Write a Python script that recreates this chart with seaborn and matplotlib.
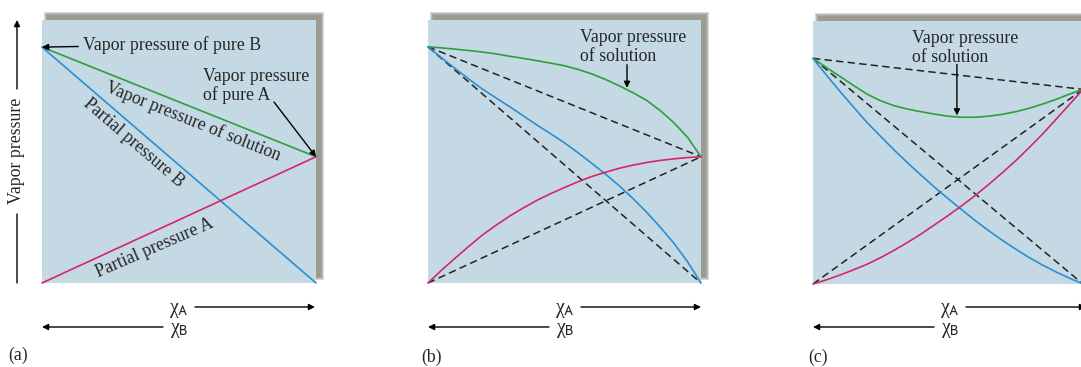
import matplotlib
matplotlib.use("Agg")
import matplotlib.pyplot as plt
import seaborn as sns
from matplotlib.patches import Rectangle

# ---------------- data ----------------
# (a) ideal solution: straight lines
a_x = [0.0, 1.0]
a_pB = [0.897, 0.0]
a_pA = [0.0, 0.48]
a_total = [0.897, 0.48]

# (b) positive deviation
b_x = [0.0, 0.05, 0.1, 0.15, 0.2, 0.25, 0.3, 0.35, 0.4, 0.45, 0.5,
       0.55, 0.6, 0.65, 0.7, 0.75, 0.8, 0.85, 0.9, 0.95, 1.0]
b_pB = [0.898, 0.856, 0.815, 0.775, 0.737, 0.703, 0.67, 0.635, 0.60, 0.567, 0.533,
        0.495, 0.455, 0.414, 0.37, 0.322, 0.27, 0.213, 0.152, 0.082, 0.0]
b_pA = [0.0, 0.049, 0.095, 0.14, 0.183, 0.22, 0.255, 0.286, 0.315, 0.34, 0.363,
        0.385, 0.405, 0.421, 0.436, 0.448, 0.458, 0.466, 0.472, 0.477, 0.48]
b_total = [0.898, 0.894, 0.889, 0.884, 0.878, 0.871, 0.862, 0.854, 0.845, 0.836, 0.826,
           0.812, 0.795, 0.774, 0.75, 0.724, 0.695, 0.656, 0.61, 0.555, 0.48]
b_ideal_x = [0.0, 1.0]
b_ideal_pB = [0.898, 0.0]
b_ideal_pA = [0.0, 0.48]
b_ideal_total = [0.898, 0.48]

# (c) negative deviation
c_x = [0.0, 0.05, 0.1, 0.15, 0.2, 0.25, 0.3, 0.35, 0.4, 0.45, 0.5,
       0.55, 0.6, 0.65, 0.7, 0.75, 0.8, 0.85, 0.9, 0.95, 1.0]
c_pB = [0.858, 0.794, 0.732, 0.673, 0.614, 0.562, 0.51, 0.461, 0.414, 0.368, 0.325,
        0.283, 0.242, 0.203, 0.167, 0.133, 0.101, 0.072, 0.046, 0.022, 0.0]
c_pA = [0.0, 0.016, 0.034, 0.054, 0.075, 0.10, 0.128, 0.158, 0.19, 0.225, 0.26,
        0.297, 0.336, 0.378, 0.422, 0.468, 0.518, 0.57, 0.626, 0.683, 0.74]
c_total = [0.858, 0.823, 0.789, 0.755, 0.722, 0.697, 0.678, 0.665, 0.655, 0.646, 0.638,
           0.634, 0.634, 0.638, 0.645, 0.655, 0.668, 0.684, 0.702, 0.722, 0.74]
c_ideal_x = [0.0, 1.0]
c_ideal_pB = [0.858, 0.0]
c_ideal_pA = [0.0, 0.74]
c_ideal_total = [0.858, 0.74]

panel_labels = ["(a)", "(b)", "(c)"]
x_labels = ["χ$_{\\mathrm{A}}$", "χ$_{\\mathrm{B}}$"]

# ---------------- style ----------------
W, H = 1081, 367
sns.set_theme(style="white")
plt.rcParams["font.family"] = ["Liberation Serif", "DejaVu Serif"]
plt.rcParams["mathtext.fontset"] = "stixsans"

BG = "#c5d9e4"
GREEN = "#2f9e3a"
BLUE = "#2a8fd2"
PINK = "#d3266f"
SHADOW = "#77776a"
FS = 12.8
LW = 1.2
DASH = (0, (4.8, 2.8))

fig = plt.figure(figsize=(W / 100, H / 100), dpi=100)
fig.patch.set_facecolor("white")


def fxy(px, py):
    return (px / W, 1 - py / H)


# panel boxes in pixels: left, top, right, bottom
boxes = [(42, 20, 316, 283), (428, 20, 701, 283), (813, 21, 1083, 284)]


def add_shadow(l, t, r, b):
    for k in range(4):
        e = 3 - k
        x0 = l + 5 - e
        x1 = r + 5 + e
        y0 = t - 5 - e
        y1 = b - 6 + e
        fig.add_artist(Rectangle((x0 / W, 1 - y1 / H), (x1 - x0) / W, (y1 - y0) / H,
                                 transform=fig.transFigure, facecolor=SHADOW,
                                 edgecolor="none", alpha=0.28, zorder=-5))


axes = []
for (l, t, r, b) in boxes:
    add_shadow(l, t, r, b)
    ax = fig.add_axes([l / W, 1 - b / H, (r - l) / W, (b - t) / H])
    ax.set_facecolor(BG)
    ax.set_xlim(0, 1)
    ax.set_ylim(0, 1)
    ax.set_xticks([])
    ax.set_yticks([])
    for s in ax.spines.values():
        s.set_visible(False)
    axes.append(ax)

ax_a, ax_b, ax_c = axes


def line(ax, x, y, color, dashed=False):
    kw = dict(linestyle=DASH, linewidth=1.1) if dashed else dict(linewidth=LW)
    sns.lineplot(x=x, y=y, ax=ax, color=color, estimator=None, sort=False,
                 clip_on=False, legend=False, **kw)
    ax.set_xlabel("")
    ax.set_ylabel("")


# (a)
line(ax_a, a_x, a_total, GREEN)
line(ax_a, a_x, a_pB, BLUE)
line(ax_a, a_x, a_pA, PINK)

# (b)
line(ax_b, b_ideal_x, b_ideal_total, "#222222", dashed=True)
line(ax_b, b_ideal_x, b_ideal_pB, "#222222", dashed=True)
line(ax_b, b_ideal_x, b_ideal_pA, "#222222", dashed=True)
line(ax_b, b_x, b_total, GREEN)
line(ax_b, b_x, b_pB, BLUE)
line(ax_b, b_x, b_pA, PINK)

# (c)
line(ax_c, c_ideal_x, c_ideal_total, "#222222", dashed=True)
line(ax_c, c_ideal_x, c_ideal_pB, "#222222", dashed=True)
line(ax_c, c_ideal_x, c_ideal_pA, "#222222", dashed=True)
line(ax_c, c_x, c_total, GREEN)
line(ax_c, c_x, c_pB, BLUE)
line(ax_c, c_x, c_pA, PINK)

arrow = dict(arrowstyle="-|>", color="black", lw=1.0, mutation_scale=9,
             shrinkA=0, shrinkB=0)

# ---------------- annotations (a) ----------------
ax_a.annotate("Vapor pressure of pure B", xy=(0, a_total[0]), xycoords="data",
              xytext=fxy(83, 45), textcoords="figure fraction",
              ha="left", va="center", fontsize=FS,
              arrowprops=dict(arrow, shrinkA=1))
fig.text(*fxy(203, 86), "Vapor pressure\nof pure A", ha="left", va="center",
         multialignment="left", fontsize=FS, linespacing=1.1)
ax_a.annotate("", xy=(1, a_total[-1]), xycoords="data",
              xytext=fxy(274, 102), textcoords="figure fraction",
              arrowprops=arrow)
fig.text(*fxy(193, 121), "Vapor pressure of solution", rotation=-21.8,
         rotation_mode="anchor", ha="center", va="center", fontsize=FS)
fig.text(*fxy(134, 143), "Partial pressure B", rotation=-40.7,
         rotation_mode="anchor", ha="center", va="center", fontsize=FS)
fig.text(*fxy(155, 248), "Partial pressure A", rotation=23.5,
         rotation_mode="anchor", ha="center", va="center", fontsize=FS)

# y label with arrow
fig.text(*fxy(17, 151), "Vapor pressure", rotation=90, ha="center",
         va="center", fontsize=FS)
ax_a.annotate("", xy=fxy(17, 20), xycoords="figure fraction",
              xytext=fxy(17, 89), textcoords="figure fraction", arrowprops=arrow)
ax_a.annotate("", xy=fxy(17, 283), xycoords="figure fraction",
              xytext=fxy(17, 214), textcoords="figure fraction",
              arrowprops=dict(arrowstyle="-", color="black", lw=1.0,
                              shrinkA=0, shrinkB=0))

# ---------------- annotations (b), (c) ----------------
fig.text(*fxy(580, 47), "Vapor pressure\nof solution", ha="left", va="center",
         multialignment="left", fontsize=FS, linespacing=1.1)
ax_b.annotate("", xy=(0.729, 0.742), xycoords="data",
              xytext=(0.729, 0.83), textcoords="data", arrowprops=arrow)

fig.text(*fxy(912, 48), "Vapor pressure\nof solution", ha="left", va="center",
         multialignment="left", fontsize=FS, linespacing=1.1)
ax_c.annotate("", xy=(0.533, 0.641), xycoords="data",
              xytext=(0.533, 0.835), textcoords="data", arrowprops=arrow)

# ---------------- x-direction arrows and panel labels ----------------
label_pos = [(18, 355), (432, 357), (818, 357)]
for (l, t, r, b), lab, (lx, ly) in zip(boxes, panel_labels, label_pos):
    fig.text(*fxy(l + 137, 310), x_labels[0], ha="center", va="center",
             fontsize=FS + 1.5)
    fig.text(*fxy(l + 137, 330), x_labels[1], ha="center", va="center",
             fontsize=FS + 1.5)
    ax_a.annotate("", xy=fxy(l + 273, 307), xycoords="figure fraction",
                  xytext=fxy(l + 153, 307), textcoords="figure fraction",
                  arrowprops=arrow, annotation_clip=False)
    ax_a.annotate("", xy=fxy(l, 327), xycoords="figure fraction",
                  xytext=fxy(l + 121, 327), textcoords="figure fraction",
                  arrowprops=arrow, annotation_clip=False)
    fig.text(*fxy(lx, ly), lab, ha="center", va="center", fontsize=FS)

fig.savefig("out.png", dpi=100, facecolor="white")
